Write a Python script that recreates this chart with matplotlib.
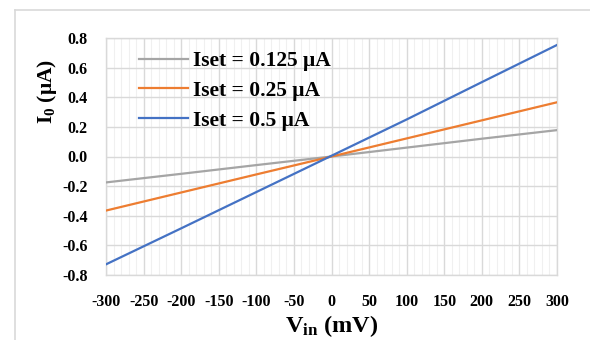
import matplotlib
matplotlib.use("Agg")
import matplotlib.pyplot as plt
from matplotlib.ticker import MultipleLocator, FormatStrFormatter
from matplotlib.lines import Line2D

plt.rcParams["font.family"] = ["Liberation Serif", "DejaVu Serif"]
plt.rcParams["font.weight"] = "bold"
plt.rcParams["axes.unicode_minus"] = False
plt.rcParams["mathtext.fontset"] = "custom"
plt.rcParams["mathtext.rm"] = "Liberation Serif"
plt.rcParams["mathtext.bf"] = "Liberation Serif:bold"
plt.rcParams["mathtext.it"] = "Liberation Serif:italic"

# Input voltage (mV) and output current (uA) for each bias setting
vin_mv = [-300, -200, -100, 0, 100, 200, 300]
io_0125 = [-0.175, -0.117, -0.058, 0.0, 0.060, 0.120, 0.178]
io_025 = [-0.365, -0.243, -0.121, 0.0, 0.122, 0.244, 0.366]
io_05 = [-0.728, -0.485, -0.240, 0.005, 0.250, 0.502, 0.753]

series_labels = ["Iset = 0.125 μA", "Iset = 0.25 μA", "Iset = 0.5 μA"]
series_colors = ["#A5A5A5", "#ED7D31", "#4472C4"]
x_ticks = [-300, -250, -200, -150, -100, -50, 0, 50, 100, 150, 200, 250, 300]

fig = plt.figure(figsize=(5.9, 3.4), dpi=100)
fig.patch.set_facecolor("white")

# light outer chart border (left and top edges)
fig.add_artist(Line2D([15 / 590, 15 / 590], [0, 1 - 10 / 340],
                      transform=fig.transFigure, color="#D9D9D9", lw=1.2))
fig.add_artist(Line2D([15 / 590, 1], [1 - 10 / 340, 1 - 10 / 340],
                      transform=fig.transFigure, color="#D9D9D9", lw=1.2))

ax = fig.add_axes([106 / 590, 1 - 275 / 340, 451 / 590, 237 / 340])

for ys, lab, col in zip([io_0125, io_025, io_05], series_labels, series_colors):
    ax.plot(vin_mv, ys, color=col, lw=1.6, label=lab, zorder=3)

ax.set_xlim(-300, 300)
ax.set_ylim(-0.8, 0.8)
ax.set_xticks(x_ticks)
ax.xaxis.set_minor_locator(MultipleLocator(10))
ax.yaxis.set_major_locator(MultipleLocator(0.2))
ax.yaxis.set_major_formatter(FormatStrFormatter("%.1f"))

ax.grid(which="major", axis="both", color="#D9D9D9", lw=1.0, zorder=1)
ax.grid(which="minor", axis="x", color="#F0F0F0", lw=0.8, zorder=0)
ax.set_axisbelow(True)

for s in ax.spines.values():
    s.set_color("#D9D9D9")
    s.set_linewidth(1.0)

ax.tick_params(which="both", length=0)
ax.tick_params(axis="x", labelsize=11.5, pad=14)
ax.tick_params(axis="y", labelsize=11.5, pad=13)
for t in ax.get_xticklabels() + ax.get_yticklabels():
    t.set_fontweight("bold")

ax.set_xlabel(r"$\mathbf{V_{in}}$ (mV)", fontsize=17.5, fontweight="bold")
ax.xaxis.set_label_coords(0.5, -0.215)
ax.xaxis.label.set_va("center")

ax.set_ylabel(r"$\mathbf{I_{0}}$ (μA)", fontsize=15.5, fontweight="bold")
ax.yaxis.set_label_coords(-0.13, 0.775)
ax.yaxis.label.set_va("center")

leg = ax.legend(loc="upper left", bbox_to_anchor=(0.073, 0.945), frameon=False,
                borderpad=0, borderaxespad=0, handlelength=2.28, handletextpad=0.25,
                labelspacing=0.45, prop={"family": "Liberation Serif", "weight": "bold", "size": 15.5})

fig.savefig("out.png", dpi=100, facecolor="white")
